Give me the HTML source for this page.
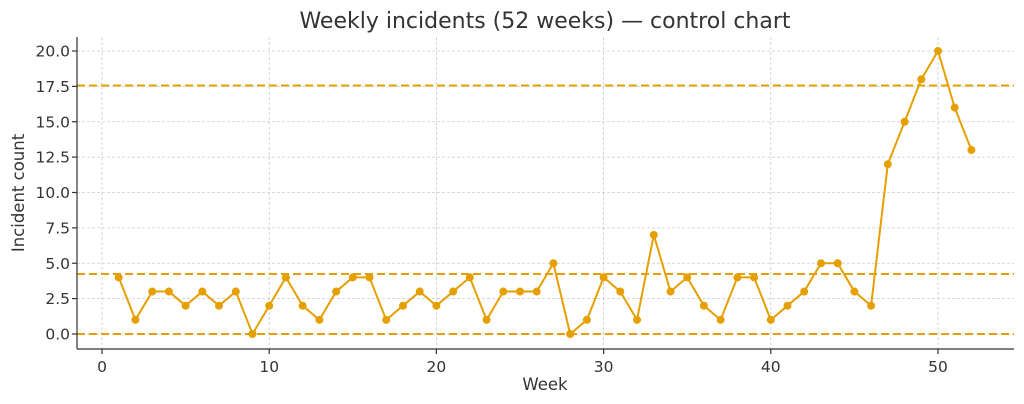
<!DOCTYPE html>
<html><head><meta charset="utf-8"><style>body{margin:0;background:#fff}svg{display:block}text{font-family:"DejaVu Sans","Liberation Sans",sans-serif;fill:#333}</style></head><body>
<svg width="1024" height="404" viewBox="0 0 1024 404">
<g stroke="#ccc" stroke-width="0.8" stroke-dasharray="3,2">
<line x1="102" y1="37" x2="102" y2="349"/><line x1="269.2" y1="37" x2="269.2" y2="349"/><line x1="436.4" y1="37" x2="436.4" y2="349"/><line x1="603.6" y1="37" x2="603.6" y2="349"/><line x1="770.8" y1="37" x2="770.8" y2="349"/><line x1="938" y1="37" x2="938" y2="349"/>
<line x1="77" y1="334" x2="1014" y2="334"/><line x1="77" y1="298.6" x2="1014" y2="298.6"/><line x1="77" y1="263.25" x2="1014" y2="263.25"/><line x1="77" y1="227.9" x2="1014" y2="227.9"/><line x1="77" y1="192.5" x2="1014" y2="192.5"/><line x1="77" y1="157.1" x2="1014" y2="157.1"/><line x1="77" y1="121.75" x2="1014" y2="121.75"/><line x1="77" y1="86.4" x2="1014" y2="86.4"/><line x1="77" y1="51" x2="1014" y2="51"/>
</g>
<g stroke="#E69F00" stroke-width="2" stroke-dasharray="8,4">
<line x1="77" y1="85.5" x2="1014" y2="85.5"/><line x1="77" y1="274" x2="1014" y2="274"/><line x1="77" y1="334" x2="1014" y2="334"/>
</g>
<polyline fill="none" stroke="#E69F00" stroke-width="2" points="118.7,277.4 135.4,319.85 152.2,291.55 168.9,291.55 185.6,305.7 202.3,291.55 219,305.7 235.8,291.55 252.5,334 269.2,305.7 285.9,277.4 302.6,305.7 319.4,319.85 336.1,291.55 352.8,277.4 369.5,277.4 386.2,319.85 403,305.7 419.7,291.55 436.4,305.7 453.1,291.55 469.8,277.4 486.6,319.85 503.3,291.55 520,291.55 536.7,291.55 553.4,263.25 570.2,334 586.9,319.85 603.6,277.4 620.3,291.55 637,319.85 653.8,234.95 670.5,291.55 687.2,277.4 703.9,305.7 720.6,319.85 737.4,277.4 754.1,277.4 770.8,319.85 787.5,305.7 804.2,291.55 821,263.25 837.7,263.25 854.4,291.55 871.1,305.7 887.8,164.2 904.6,121.75 921.3,79.3 938,51 954.7,107.6 971.4,150.05"/>
<g fill="#E69F00">
<circle cx="118.7" cy="277.4" r="4"/><circle cx="135.4" cy="319.85" r="4"/><circle cx="152.2" cy="291.55" r="4"/><circle cx="168.9" cy="291.55" r="4"/><circle cx="185.6" cy="305.7" r="4"/><circle cx="202.3" cy="291.55" r="4"/><circle cx="219" cy="305.7" r="4"/><circle cx="235.8" cy="291.55" r="4"/><circle cx="252.5" cy="334" r="4"/><circle cx="269.2" cy="305.7" r="4"/><circle cx="285.9" cy="277.4" r="4"/><circle cx="302.6" cy="305.7" r="4"/><circle cx="319.4" cy="319.85" r="4"/><circle cx="336.1" cy="291.55" r="4"/><circle cx="352.8" cy="277.4" r="4"/><circle cx="369.5" cy="277.4" r="4"/><circle cx="386.2" cy="319.85" r="4"/><circle cx="403" cy="305.7" r="4"/><circle cx="419.7" cy="291.55" r="4"/><circle cx="436.4" cy="305.7" r="4"/><circle cx="453.1" cy="291.55" r="4"/><circle cx="469.8" cy="277.4" r="4"/><circle cx="486.6" cy="319.85" r="4"/><circle cx="503.3" cy="291.55" r="4"/><circle cx="520" cy="291.55" r="4"/><circle cx="536.7" cy="291.55" r="4"/><circle cx="553.4" cy="263.25" r="4"/><circle cx="570.2" cy="334" r="4"/><circle cx="586.9" cy="319.85" r="4"/><circle cx="603.6" cy="277.4" r="4"/><circle cx="620.3" cy="291.55" r="4"/><circle cx="637" cy="319.85" r="4"/><circle cx="653.8" cy="234.95" r="4"/><circle cx="670.5" cy="291.55" r="4"/><circle cx="687.2" cy="277.4" r="4"/><circle cx="703.9" cy="305.7" r="4"/><circle cx="720.6" cy="319.85" r="4"/><circle cx="737.4" cy="277.4" r="4"/><circle cx="754.1" cy="277.4" r="4"/><circle cx="770.8" cy="319.85" r="4"/><circle cx="787.5" cy="305.7" r="4"/><circle cx="804.2" cy="291.55" r="4"/><circle cx="821" cy="263.25" r="4"/><circle cx="837.7" cy="263.25" r="4"/><circle cx="854.4" cy="291.55" r="4"/><circle cx="871.1" cy="305.7" r="4"/><circle cx="887.8" cy="164.2" r="4"/><circle cx="904.6" cy="121.75" r="4"/><circle cx="921.3" cy="79.3" r="4"/><circle cx="938" cy="51" r="4"/><circle cx="954.7" cy="107.6" r="4"/><circle cx="971.4" cy="150.05" r="4"/>
</g>
<g stroke="#333" stroke-width="1.2">
<line x1="77" y1="37" x2="77" y2="349"/><line x1="77" y1="349" x2="1014" y2="349"/>
<line x1="72" y1="334" x2="77" y2="334"/><line x1="72" y1="298.6" x2="77" y2="298.6"/><line x1="72" y1="263.25" x2="77" y2="263.25"/><line x1="72" y1="227.9" x2="77" y2="227.9"/><line x1="72" y1="192.5" x2="77" y2="192.5"/><line x1="72" y1="157.1" x2="77" y2="157.1"/><line x1="72" y1="121.75" x2="77" y2="121.75"/><line x1="72" y1="86.4" x2="77" y2="86.4"/><line x1="72" y1="51" x2="77" y2="51"/>
<line x1="102" y1="349" x2="102" y2="354"/><line x1="269.2" y1="349" x2="269.2" y2="354"/><line x1="436.4" y1="349" x2="436.4" y2="354"/><line x1="603.6" y1="349" x2="603.6" y2="354"/><line x1="770.8" y1="349" x2="770.8" y2="354"/><line x1="938" y1="349" x2="938" y2="354"/>
</g>
<g font-size="15.5" text-anchor="end">
<text x="70" y="339.5">0.0</text><text x="70" y="304.1">2.5</text><text x="70" y="268.75">5.0</text><text x="70" y="233.4">7.5</text><text x="70" y="198">10.0</text><text x="70" y="162.6">12.5</text><text x="70" y="127.25">15.0</text><text x="70" y="91.9">17.5</text><text x="70" y="56.5">20.0</text>
</g>
<g font-size="15.5" text-anchor="middle">
<text x="102" y="372">0</text><text x="269.2" y="372">10</text><text x="436.4" y="372">20</text><text x="603.6" y="372">30</text><text x="770.8" y="372">40</text><text x="938" y="372">50</text>
<text x="545" y="390" font-size="16.5">Week</text>
<text x="545" y="28" font-size="22">Weekly incidents (52 weeks) — control chart</text>
<text transform="translate(24,193) rotate(-90)" font-size="16.5">Incident count</text>
</g>
</svg>
</body></html>
